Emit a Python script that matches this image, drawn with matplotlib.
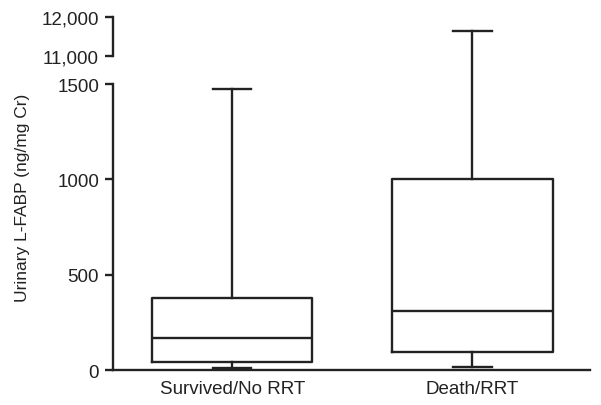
import matplotlib
matplotlib.use("Agg")
import matplotlib.pyplot as plt

plt.rcParams['font.family'] = ['Liberation Sans', 'DejaVu Sans']

groups = ['Survived/No RRT', 'Death/RRT']
whisker_low = [10, 16]
q1 = [42, 94]
median = [167, 308]
q3 = [376, 1000]
whisker_high = [1475, 11650]

low_ticks = [0, 500, 1000, 1500]
top_ticks = [11000, 12000]
top_ticklabels = ['11,000', '12,000']

ink = '#222222'
lw = 1.7

stats = []
for i, g in enumerate(groups):
    stats.append(dict(label=g, whislo=whisker_low[i], q1=q1[i], med=median[i],
                      q3=q3[i], whishi=whisker_high[i], fliers=[]))

fig = plt.figure(figsize=(6.01, 4.06), dpi=100)
ax = fig.add_axes([0.188, 0.0862, 0.794, 0.704])
ax_top = fig.add_axes([0.188, 0.8596, 0.794, 0.096])

props = dict(color=ink, linewidth=lw)
for a in (ax, ax_top):
    a.bxp(stats, positions=[1, 2], widths=0.667, showfliers=False,
          boxprops=props, medianprops=props, whiskerprops=props,
          capprops=props, capwidths=0.16)
    a.set_xlim(0.504, 2.49)
    for s in ('top', 'right'):
        a.spines[s].set_visible(False)
    a.spines['left'].set_linewidth(lw)
    a.spines['left'].set_color(ink)
    a.tick_params(axis='y', length=6, width=lw, color=ink, labelsize=13.5,
                  labelcolor=ink, pad=4)

ax.set_ylim(0, 1500)
ax.set_yticks(low_ticks)
ax.set_yticklabels([str(t) for t in low_ticks])
ax.spines['bottom'].set_linewidth(lw)
ax.spines['bottom'].set_color(ink)
ax.tick_params(axis='x', length=0, labelsize=13.5, labelcolor=ink, pad=7)
ax.set_xticks([1, 2])
ax.set_xticklabels(groups)

ax_top.set_ylim(11000, 12000)
ax_top.set_yticks(top_ticks)
ax_top.set_yticklabels(top_ticklabels)
ax_top.spines['bottom'].set_visible(False)
ax_top.set_xticks([])
ax_top.patch.set_alpha(0)

# whisker running through the axis break, drawn in the lower axes
pix = ax_top.transData.transform((2, 11000))
y_gap = ax.transData.inverted().transform(pix)[1]
ax.plot([2, 2], [1500, y_gap], color=ink, linewidth=lw, clip_on=False,
        solid_capstyle='butt')

fig.text(23 / 601, 1 - 198 / 406, 'Urinary L-FABP (ng/mg Cr)', rotation=90,
         ha='center', va='center', fontsize=12.5, color=ink)

fig.savefig('out.png', dpi=100)
